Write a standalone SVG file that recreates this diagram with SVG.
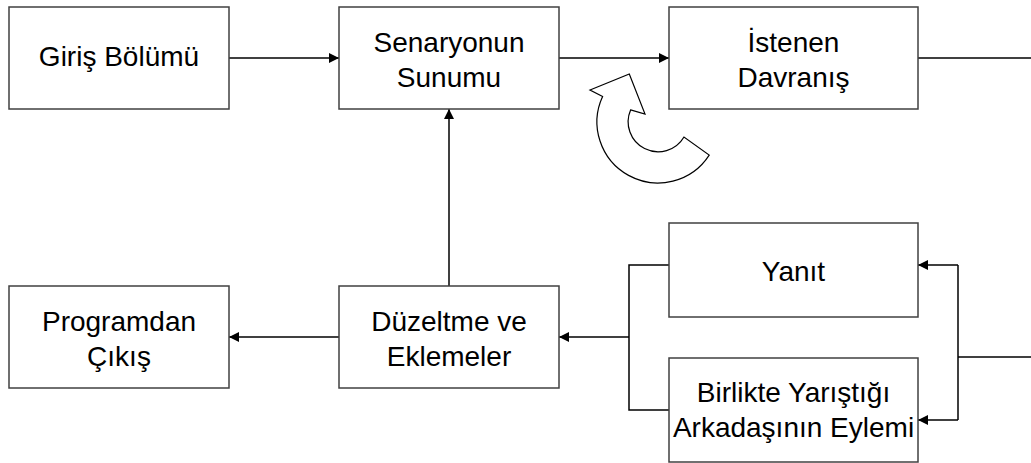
<svg xmlns="http://www.w3.org/2000/svg" width="1031" height="463" viewBox="0 0 1031 463">
  <style>
    .box { fill: #ffffff; stroke: #404040; stroke-width: 1.5; }
    .lbl { font-family: "Liberation Sans", Arial, sans-serif; font-size: 28px; fill: #000000; text-anchor: middle; }
    .wire { fill: none; stroke: #000000; stroke-width: 1.5; }
    .arr { marker-end: url(#head); }
    .turn { fill: #ffffff; stroke: #000000; stroke-width: 1.2; stroke-linejoin: miter; }
  </style>
  <defs>
    <marker id="head" viewBox="0 0 10 10" refX="10" refY="5" markerWidth="10" markerHeight="10" markerUnits="userSpaceOnUse" orient="auto">
      <path d="M0,0 L10,5 L0,10 Z" fill="#000000"/>
    </marker>
  </defs>

  <rect width="1031" height="463" fill="#ffffff"/>

  <g id="connectors">
    <line class="wire arr" x1="229" y1="58" x2="339" y2="58"/>
    <line class="wire arr" x1="559" y1="58" x2="669" y2="58"/>
    <line class="wire" x1="918" y1="58" x2="1031" y2="58"/>
    <line class="wire arr" x1="449" y1="286" x2="449" y2="109"/>
    <line class="wire arr" x1="339" y1="337" x2="229" y2="337"/>
    <polyline class="wire" points="669,265 629,265 629,410 669,410"/>
    <line class="wire arr" x1="629" y1="337" x2="559" y2="337"/>
    <line class="wire" x1="1031" y1="357" x2="958" y2="357"/>
    <line class="wire" x1="958" y1="265" x2="958" y2="420"/>
    <line class="wire arr" x1="958" y1="265" x2="918" y2="265"/>
    <line class="wire arr" x1="958" y1="420" x2="918" y2="420"/>
  </g>

  <g id="giris">
    <rect class="box" x="9" y="7" width="220" height="102"/>
    <text class="lbl" x="119" y="66">Giriş Bölümü</text>
  </g>

  <g id="senaryo">
    <rect class="box" x="339" y="7" width="220" height="102"/>
    <text class="lbl" x="449" y="52">Senaryonun</text>
    <text class="lbl" x="449" y="87">Sunumu</text>
  </g>

  <g id="davranis">
    <rect class="box" x="669" y="7" width="249" height="102"/>
    <text class="lbl" x="793.5" y="52">İstenen</text>
    <text class="lbl" x="793.5" y="87">Davranış</text>
  </g>

  <g id="yanit">
    <rect class="box" x="669" y="223" width="249" height="94"/>
    <text class="lbl" x="793.5" y="281">Yanıt</text>
  </g>

  <g id="arkadas">
    <rect class="box" x="669" y="358" width="249" height="104"/>
    <text class="lbl" x="793.5" y="402">Birlikte Yarıştığı</text>
    <text class="lbl" x="793.5" y="437">Arkadaşının Eylemi</text>
  </g>

  <g id="duzeltme">
    <rect class="box" x="339" y="286" width="220" height="102"/>
    <text class="lbl" x="449" y="331">Düzeltme ve</text>
    <text class="lbl" x="449" y="366">Eklemeler</text>
  </g>

  <g id="cikis">
    <rect class="box" x="9" y="286" width="220" height="102"/>
    <text class="lbl" x="119" y="331">Programdan</text>
    <text class="lbl" x="119" y="366">Çıkış</text>
  </g>

  <!-- curved return arrow under the top row -->
  <g id="donus">
    <path class="turn" d="M630.6,109.9 L645,114 L629.3,74 L590,90 L602.6,96.4 A61,61 0 0 0 709.2,155.1 L684,137 A30,30 0 0 1 630.6,109.9 Z"/>
  </g>
</svg>
